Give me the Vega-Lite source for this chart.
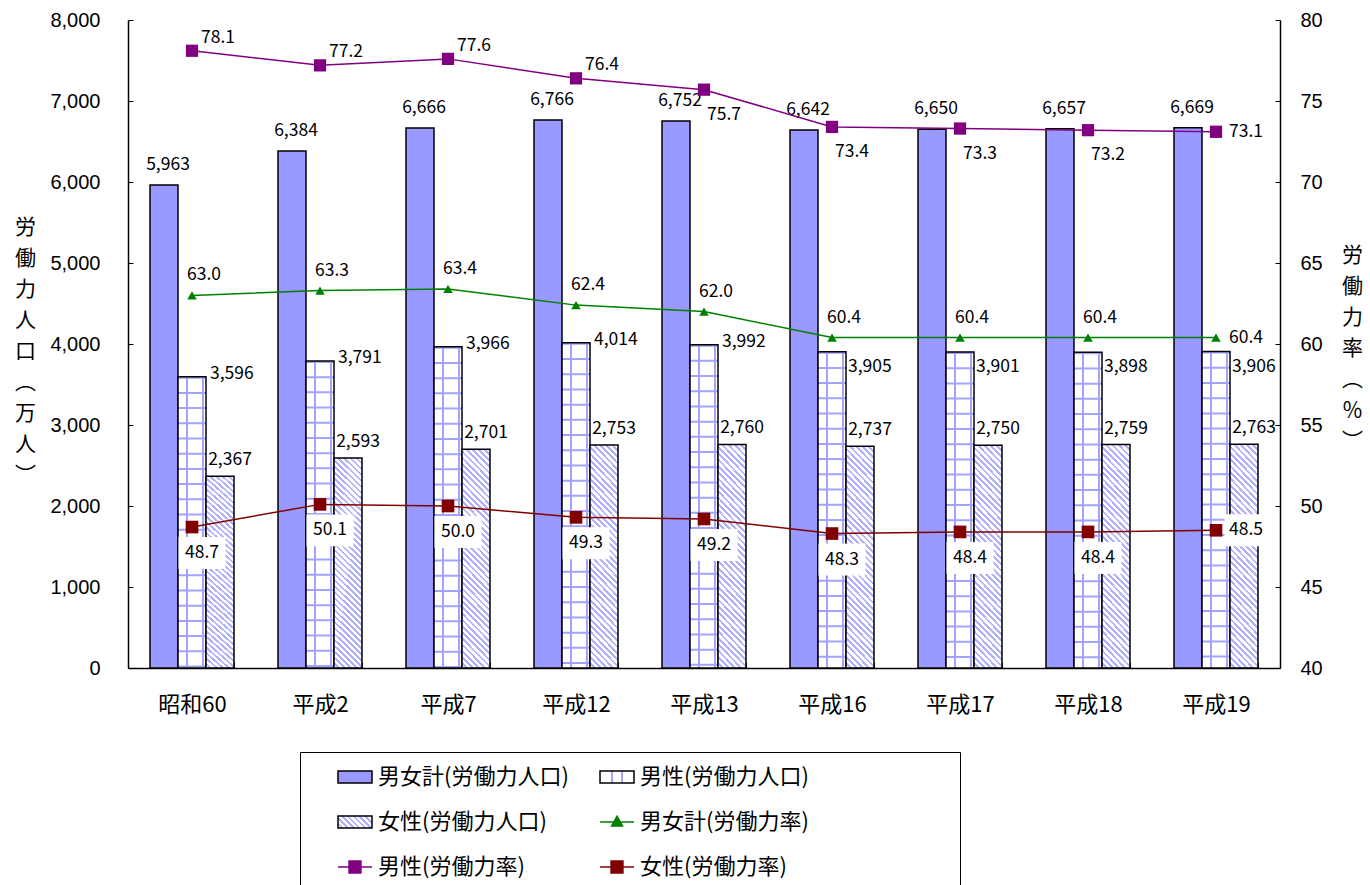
{
  "$schema": "https://vega.github.io/schema/vega-lite/v6.json",
  "width": 1152,
  "height": 648,
  "autosize": {"type": "none"},
  "padding": {"left": 128, "top": 20, "right": 90, "bottom": 217},
  "background": "white",
  "view": {"stroke": null},
  "config": {
    "axis": {"grid": false, "domainColor": "black", "tickColor": "black", "labelColor": "black", "titleColor": "black"}
  },
  "datasets": {
    "rows": [
      {"year": "昭和60", "series": "男女計(労働力人口)", "value": 5963},
      {"year": "平成2", "series": "男女計(労働力人口)", "value": 6384},
      {"year": "平成7", "series": "男女計(労働力人口)", "value": 6666},
      {"year": "平成12", "series": "男女計(労働力人口)", "value": 6766},
      {"year": "平成13", "series": "男女計(労働力人口)", "value": 6752},
      {"year": "平成16", "series": "男女計(労働力人口)", "value": 6642},
      {"year": "平成17", "series": "男女計(労働力人口)", "value": 6650},
      {"year": "平成18", "series": "男女計(労働力人口)", "value": 6657},
      {"year": "平成19", "series": "男女計(労働力人口)", "value": 6669},
      {"year": "昭和60", "series": "男性(労働力人口)", "value": 3596},
      {"year": "平成2", "series": "男性(労働力人口)", "value": 3791},
      {"year": "平成7", "series": "男性(労働力人口)", "value": 3966},
      {"year": "平成12", "series": "男性(労働力人口)", "value": 4014},
      {"year": "平成13", "series": "男性(労働力人口)", "value": 3992},
      {"year": "平成16", "series": "男性(労働力人口)", "value": 3905},
      {"year": "平成17", "series": "男性(労働力人口)", "value": 3901},
      {"year": "平成18", "series": "男性(労働力人口)", "value": 3898},
      {"year": "平成19", "series": "男性(労働力人口)", "value": 3906},
      {"year": "昭和60", "series": "女性(労働力人口)", "value": 2367},
      {"year": "平成2", "series": "女性(労働力人口)", "value": 2593},
      {"year": "平成7", "series": "女性(労働力人口)", "value": 2701},
      {"year": "平成12", "series": "女性(労働力人口)", "value": 2753},
      {"year": "平成13", "series": "女性(労働力人口)", "value": 2760},
      {"year": "平成16", "series": "女性(労働力人口)", "value": 2737},
      {"year": "平成17", "series": "女性(労働力人口)", "value": 2750},
      {"year": "平成18", "series": "女性(労働力人口)", "value": 2759},
      {"year": "平成19", "series": "女性(労働力人口)", "value": 2763},
      {"year": "昭和60", "series": "男女計(労働力率)", "value": 63.0},
      {"year": "平成2", "series": "男女計(労働力率)", "value": 63.3},
      {"year": "平成7", "series": "男女計(労働力率)", "value": 63.4},
      {"year": "平成12", "series": "男女計(労働力率)", "value": 62.4},
      {"year": "平成13", "series": "男女計(労働力率)", "value": 62.0},
      {"year": "平成16", "series": "男女計(労働力率)", "value": 60.4},
      {"year": "平成17", "series": "男女計(労働力率)", "value": 60.4},
      {"year": "平成18", "series": "男女計(労働力率)", "value": 60.4},
      {"year": "平成19", "series": "男女計(労働力率)", "value": 60.4},
      {"year": "昭和60", "series": "男性(労働力率)", "value": 78.1},
      {"year": "平成2", "series": "男性(労働力率)", "value": 77.2},
      {"year": "平成7", "series": "男性(労働力率)", "value": 77.6},
      {"year": "平成12", "series": "男性(労働力率)", "value": 76.4},
      {"year": "平成13", "series": "男性(労働力率)", "value": 75.7},
      {"year": "平成16", "series": "男性(労働力率)", "value": 73.4},
      {"year": "平成17", "series": "男性(労働力率)", "value": 73.3},
      {"year": "平成18", "series": "男性(労働力率)", "value": 73.2},
      {"year": "平成19", "series": "男性(労働力率)", "value": 73.1},
      {"year": "昭和60", "series": "女性(労働力率)", "value": 48.7},
      {"year": "平成2", "series": "女性(労働力率)", "value": 50.1},
      {"year": "平成7", "series": "女性(労働力率)", "value": 50.0},
      {"year": "平成12", "series": "女性(労働力率)", "value": 49.3},
      {"year": "平成13", "series": "女性(労働力率)", "value": 49.2},
      {"year": "平成16", "series": "女性(労働力率)", "value": 48.3},
      {"year": "平成17", "series": "女性(労働力率)", "value": 48.4},
      {"year": "平成18", "series": "女性(労働力率)", "value": 48.4},
      {"year": "平成19", "series": "女性(労働力率)", "value": 48.5}
    ]
  },
  "data": {"name": "rows"},
  "encoding": {
    "x": {
      "field": "year",
      "type": "nominal",
      "sort": ["昭和60", "平成2", "平成7", "平成12", "平成13", "平成16", "平成17", "平成18", "平成19"],
      "scale": {"paddingInner": 0.34375, "paddingOuter": 0.171875},
      "axis": {
        "title": null,
        "labelAngle": 0,
        "labelFont": "Noto Sans CJK JP",
        "labelFontSize": 22,
        "labelPadding": 32,
        "tickBand": "extent",
        "tickSize": -6,
        "domainWidth": 1.5
      }
    }
  },
  "layer": [
    {
      "encoding": {
        "y": {
          "field": "value",
          "type": "quantitative",
          "scale": {"domain": [0, 8000], "nice": false},
          "axis": {
            "orient": "left",
            "values": [0, 1000, 2000, 3000, 4000, 5000, 6000, 7000, 8000],
            "format": ",.0f",
            "labelFont": "Liberation Sans",
            "labelFontSize": 20,
            "tickSize": -5,
            "labelPadding": 33,
            "domainWidth": 1.5,
            "title": ["労", "働", "力", "人", "口", "︵", "万", "人", "︶"],
            "titleAngle": 0,
            "titleAlign": "center",
            "titleBaseline": "top",
            "titleX": -103,
            "titleY": 196,
            "titleLineHeight": 31,
            "titleFont": "Noto Sans CJK JP",
            "titleFontSize": 21,
            "titleFontWeight": "normal"
          }
        },
        "xOffset": {
          "field": "series",
          "type": "nominal",
          "sort": ["男女計(労働力人口)", "男性(労働力人口)", "女性(労働力人口)"],
          "scale": {"domain": ["男女計(労働力人口)", "男性(労働力人口)", "女性(労働力人口)"], "paddingInner": 0, "paddingOuter": 0}
        }
      },
      "layer": [
        {
          "transform": [{"filter": "datum.series === '男女計(労働力人口)'"}],
          "mark": {"type": "bar", "fill": "#9999ff", "stroke": "black", "strokeWidth": 1.5}
        },
        {
          "transform": [{"filter": "datum.series === '男性(労働力人口)'"}],
          "mark": {
            "type": "bar",
            "fill": {
              "gradient": "linear", "x1": 0, "y1": 0, "x2": 1, "y2": 0,
              "stops": [
                {"offset": 0, "color": "#fff"}, {"offset": 0.3, "color": "#fff"},
                {"offset": 0.3, "color": "#a3a3ff"}, {"offset": 0.37, "color": "#a3a3ff"},
                {"offset": 0.37, "color": "#fff"}, {"offset": 0.87, "color": "#fff"},
                {"offset": 0.87, "color": "#a3a3ff"}, {"offset": 0.94, "color": "#a3a3ff"},
                {"offset": 0.94, "color": "#fff"}, {"offset": 1, "color": "#fff"}
              ]
            },
            "strokeWidth": 0
          }
        },
        {
          "transform": [{"filter": "datum.series === '男性(労働力人口)'"}],
          "mark": {"type": "rule", "color": "#a3a3ff", "strokeWidth": 28, "strokeDash": [2, 13.2], "strokeCap": "butt", "opacity": 1},
          "encoding": {"y2": {"datum": 0}}
        },
        {
          "transform": [{"filter": "datum.series === '男性(労働力人口)'"}],
          "mark": {"type": "bar", "fillOpacity": 0, "stroke": "black", "strokeWidth": 1.5}
        },
        {
          "transform": [{"filter": "datum.series === '女性(労働力人口)'"}],
          "mark": {
            "type": "bar",
            "stroke": "black",
            "strokeWidth": 1.5,
            "fill": {
              "gradient": "linear", "x1": 0, "y1": 1, "x2": 0.1456, "y2": -0.12,
              "stops": [
                {"offset": 0, "color": "#fff"}, {"offset": 0.014, "color": "#fff"}, {"offset": 0.014, "color": "#b0b0ff"}, {"offset": 0.025, "color": "#b0b0ff"},
                {"offset": 0.025, "color": "#fff"}, {"offset": 0.039, "color": "#fff"}, {"offset": 0.039, "color": "#b0b0ff"}, {"offset": 0.05, "color": "#b0b0ff"},
                {"offset": 0.05, "color": "#fff"}, {"offset": 0.064, "color": "#fff"}, {"offset": 0.064, "color": "#b0b0ff"}, {"offset": 0.075, "color": "#b0b0ff"},
                {"offset": 0.075, "color": "#fff"}, {"offset": 0.089, "color": "#fff"}, {"offset": 0.089, "color": "#b0b0ff"}, {"offset": 0.1, "color": "#b0b0ff"},
                {"offset": 0.1, "color": "#fff"}, {"offset": 0.114, "color": "#fff"}, {"offset": 0.114, "color": "#b0b0ff"}, {"offset": 0.125, "color": "#b0b0ff"},
                {"offset": 0.125, "color": "#fff"}, {"offset": 0.139, "color": "#fff"}, {"offset": 0.139, "color": "#b0b0ff"}, {"offset": 0.15, "color": "#b0b0ff"},
                {"offset": 0.15, "color": "#fff"}, {"offset": 0.164, "color": "#fff"}, {"offset": 0.164, "color": "#b0b0ff"}, {"offset": 0.175, "color": "#b0b0ff"},
                {"offset": 0.175, "color": "#fff"}, {"offset": 0.189, "color": "#fff"}, {"offset": 0.189, "color": "#b0b0ff"}, {"offset": 0.2, "color": "#b0b0ff"},
                {"offset": 0.2, "color": "#fff"}, {"offset": 0.214, "color": "#fff"}, {"offset": 0.214, "color": "#b0b0ff"}, {"offset": 0.225, "color": "#b0b0ff"},
                {"offset": 0.225, "color": "#fff"}, {"offset": 0.239, "color": "#fff"}, {"offset": 0.239, "color": "#b0b0ff"}, {"offset": 0.25, "color": "#b0b0ff"},
                {"offset": 0.25, "color": "#fff"}, {"offset": 0.264, "color": "#fff"}, {"offset": 0.264, "color": "#b0b0ff"}, {"offset": 0.275, "color": "#b0b0ff"},
                {"offset": 0.275, "color": "#fff"}, {"offset": 0.289, "color": "#fff"}, {"offset": 0.289, "color": "#b0b0ff"}, {"offset": 0.3, "color": "#b0b0ff"},
                {"offset": 0.3, "color": "#fff"}, {"offset": 0.314, "color": "#fff"}, {"offset": 0.314, "color": "#b0b0ff"}, {"offset": 0.325, "color": "#b0b0ff"},
                {"offset": 0.325, "color": "#fff"}, {"offset": 0.339, "color": "#fff"}, {"offset": 0.339, "color": "#b0b0ff"}, {"offset": 0.35, "color": "#b0b0ff"},
                {"offset": 0.35, "color": "#fff"}, {"offset": 0.364, "color": "#fff"}, {"offset": 0.364, "color": "#b0b0ff"}, {"offset": 0.375, "color": "#b0b0ff"},
                {"offset": 0.375, "color": "#fff"}, {"offset": 0.389, "color": "#fff"}, {"offset": 0.389, "color": "#b0b0ff"}, {"offset": 0.4, "color": "#b0b0ff"},
                {"offset": 0.4, "color": "#fff"}, {"offset": 0.414, "color": "#fff"}, {"offset": 0.414, "color": "#b0b0ff"}, {"offset": 0.425, "color": "#b0b0ff"},
                {"offset": 0.425, "color": "#fff"}, {"offset": 0.439, "color": "#fff"}, {"offset": 0.439, "color": "#b0b0ff"}, {"offset": 0.45, "color": "#b0b0ff"},
                {"offset": 0.45, "color": "#fff"}, {"offset": 0.464, "color": "#fff"}, {"offset": 0.464, "color": "#b0b0ff"}, {"offset": 0.475, "color": "#b0b0ff"},
                {"offset": 0.475, "color": "#fff"}, {"offset": 0.489, "color": "#fff"}, {"offset": 0.489, "color": "#b0b0ff"}, {"offset": 0.5, "color": "#b0b0ff"},
                {"offset": 0.5, "color": "#fff"}, {"offset": 0.514, "color": "#fff"}, {"offset": 0.514, "color": "#b0b0ff"}, {"offset": 0.525, "color": "#b0b0ff"},
                {"offset": 0.525, "color": "#fff"}, {"offset": 0.539, "color": "#fff"}, {"offset": 0.539, "color": "#b0b0ff"}, {"offset": 0.55, "color": "#b0b0ff"},
                {"offset": 0.55, "color": "#fff"}, {"offset": 0.564, "color": "#fff"}, {"offset": 0.564, "color": "#b0b0ff"}, {"offset": 0.575, "color": "#b0b0ff"},
                {"offset": 0.575, "color": "#fff"}, {"offset": 0.589, "color": "#fff"}, {"offset": 0.589, "color": "#b0b0ff"}, {"offset": 0.6, "color": "#b0b0ff"},
                {"offset": 0.6, "color": "#fff"}, {"offset": 0.614, "color": "#fff"}, {"offset": 0.614, "color": "#b0b0ff"}, {"offset": 0.625, "color": "#b0b0ff"},
                {"offset": 0.625, "color": "#fff"}, {"offset": 0.639, "color": "#fff"}, {"offset": 0.639, "color": "#b0b0ff"}, {"offset": 0.65, "color": "#b0b0ff"},
                {"offset": 0.65, "color": "#fff"}, {"offset": 0.664, "color": "#fff"}, {"offset": 0.664, "color": "#b0b0ff"}, {"offset": 0.675, "color": "#b0b0ff"},
                {"offset": 0.675, "color": "#fff"}, {"offset": 0.689, "color": "#fff"}, {"offset": 0.689, "color": "#b0b0ff"}, {"offset": 0.7, "color": "#b0b0ff"},
                {"offset": 0.7, "color": "#fff"}, {"offset": 0.714, "color": "#fff"}, {"offset": 0.714, "color": "#b0b0ff"}, {"offset": 0.725, "color": "#b0b0ff"},
                {"offset": 0.725, "color": "#fff"}, {"offset": 0.739, "color": "#fff"}, {"offset": 0.739, "color": "#b0b0ff"}, {"offset": 0.75, "color": "#b0b0ff"},
                {"offset": 0.75, "color": "#fff"}, {"offset": 0.764, "color": "#fff"}, {"offset": 0.764, "color": "#b0b0ff"}, {"offset": 0.775, "color": "#b0b0ff"},
                {"offset": 0.775, "color": "#fff"}, {"offset": 0.789, "color": "#fff"}, {"offset": 0.789, "color": "#b0b0ff"}, {"offset": 0.8, "color": "#b0b0ff"},
                {"offset": 0.8, "color": "#fff"}, {"offset": 0.814, "color": "#fff"}, {"offset": 0.814, "color": "#b0b0ff"}, {"offset": 0.825, "color": "#b0b0ff"},
                {"offset": 0.825, "color": "#fff"}, {"offset": 0.839, "color": "#fff"}, {"offset": 0.839, "color": "#b0b0ff"}, {"offset": 0.85, "color": "#b0b0ff"},
                {"offset": 0.85, "color": "#fff"}, {"offset": 0.864, "color": "#fff"}, {"offset": 0.864, "color": "#b0b0ff"}, {"offset": 0.875, "color": "#b0b0ff"},
                {"offset": 0.875, "color": "#fff"}, {"offset": 0.889, "color": "#fff"}, {"offset": 0.889, "color": "#b0b0ff"}, {"offset": 0.9, "color": "#b0b0ff"},
                {"offset": 0.9, "color": "#fff"}, {"offset": 0.914, "color": "#fff"}, {"offset": 0.914, "color": "#b0b0ff"}, {"offset": 0.925, "color": "#b0b0ff"},
                {"offset": 0.925, "color": "#fff"}, {"offset": 0.939, "color": "#fff"}, {"offset": 0.939, "color": "#b0b0ff"}, {"offset": 0.95, "color": "#b0b0ff"},
                {"offset": 0.95, "color": "#fff"}, {"offset": 0.964, "color": "#fff"}, {"offset": 0.964, "color": "#b0b0ff"}, {"offset": 0.975, "color": "#b0b0ff"},
                {"offset": 0.975, "color": "#fff"}, {"offset": 0.989, "color": "#fff"}, {"offset": 0.989, "color": "#b0b0ff"}, {"offset": 1, "color": "#b0b0ff"}
              ]
            }
          }
        },
        {
          "transform": [{"filter": "datum.series === '男女計(労働力人口)'"}],
          "mark": {"type": "text", "font": "Noto Sans CJK JP", "fontSize": 17.5, "color": "black", "align": "center", "baseline": "bottom", "dx": 4, "dy": -11},
          "encoding": {"text": {"field": "value", "type": "quantitative", "format": ","}}
        },
        {
          "transform": [{"filter": "datum.series === '男性(労働力人口)' && indexof(['昭和60', '平成2', '平成7', '平成12', '平成13'], datum.year) >= 0"}],
          "mark": {"type": "text", "font": "Noto Sans CJK JP", "fontSize": 17.5, "color": "black", "align": "left", "baseline": "middle", "dx": 18, "dy": -3},
          "encoding": {"text": {"field": "value", "type": "quantitative", "format": ","}}
        },
        {
          "transform": [{"filter": "datum.series === '男性(労働力人口)' && indexof(['平成16', '平成17', '平成18', '平成19'], datum.year) >= 0"}],
          "mark": {"type": "text", "font": "Noto Sans CJK JP", "fontSize": 17.5, "color": "black", "align": "left", "baseline": "middle", "dx": 16, "dy": 15},
          "encoding": {"text": {"field": "value", "type": "quantitative", "format": ","}}
        },
        {
          "transform": [{"filter": "datum.series === '女性(労働力人口)'"}],
          "mark": {"type": "text", "font": "Noto Sans CJK JP", "fontSize": 17.5, "color": "black", "align": "center", "baseline": "bottom", "dx": 10, "dy": -7},
          "encoding": {"text": {"field": "value", "type": "quantitative", "format": ","}}
        }
      ]
    },
    {
      "encoding": {
        "y": {
          "field": "value",
          "type": "quantitative",
          "scale": {"domain": [40, 80], "nice": false, "zero": false},
          "axis": {
            "orient": "right",
            "values": [40, 45, 50, 55, 60, 65, 70, 75, 80],
            "labelFont": "Liberation Sans",
            "labelFontSize": 20,
            "tickSize": -5,
            "labelPadding": 25,
            "domainWidth": 1.5,
            "title": ["労", "働", "力", "率", "︵", "％", "︶"],
            "titleAngle": 0,
            "titleAlign": "center",
            "titleBaseline": "top",
            "titleX": 72,
            "titleY": 224,
            "titleLineHeight": 31,
            "titleFont": "Noto Sans CJK JP",
            "titleFontSize": 21,
            "titleFontWeight": "normal"
          }
        }
      },
      "layer": [
        {
          "transform": [{"filter": "datum.series === '男女計(労働力率)'"}],
          "mark": {"type": "line", "color": "#008000", "strokeWidth": 1.5},
          "encoding": {}
        },
        {
          "transform": [{"filter": "datum.series === '男女計(労働力率)'"}],
          "mark": {"type": "point", "shape": "triangle-up", "filled": true, "color": "#008000", "size": 90, "opacity": 1}
        },
        {
          "transform": [{"filter": "datum.series === '男性(労働力率)'"}],
          "mark": {"type": "line", "color": "#800080", "strokeWidth": 1.5},
          "encoding": {}
        },
        {
          "transform": [{"filter": "datum.series === '男性(労働力率)'"}],
          "mark": {"type": "point", "shape": "square", "filled": true, "color": "#800080", "size": 150, "opacity": 1}
        },
        {
          "transform": [{"filter": "datum.series === '女性(労働力率)'"}],
          "mark": {"type": "line", "color": "#800000", "strokeWidth": 1.5},
          "encoding": {}
        },
        {
          "transform": [{"filter": "datum.series === '女性(労働力率)'"}],
          "mark": {"type": "point", "shape": "square", "filled": true, "color": "#800000", "size": 160, "opacity": 1}
        },
        {
          "transform": [{"filter": "datum.series === '男女計(労働力率)' && datum.year !== '平成19'"}],
          "mark": {"type": "text", "font": "Noto Sans CJK JP", "fontSize": 17.5, "color": "black", "align": "center", "baseline": "middle", "dx": 12, "dy": -20},
          "encoding": {"text": {"field": "value", "type": "quantitative", "format": ".1f"}}
        },
        {
          "transform": [{"filter": "datum.series === '男性(労働力率)' && indexof(['昭和60', '平成2', '平成7', '平成12'], datum.year) >= 0"}],
          "mark": {"type": "text", "font": "Noto Sans CJK JP", "fontSize": 17.5, "color": "black", "align": "center", "baseline": "middle", "dx": 26, "dy": -13},
          "encoding": {"text": {"field": "value", "type": "quantitative", "format": ".1f"}}
        },
        {
          "transform": [{"filter": "datum.series === '男性(労働力率)' && indexof(['平成13', '平成16', '平成17', '平成18'], datum.year) >= 0"}],
          "mark": {"type": "text", "font": "Noto Sans CJK JP", "fontSize": 17.5, "color": "black", "align": "center", "baseline": "middle", "dx": 20, "dy": 25},
          "encoding": {"text": {"field": "value", "type": "quantitative", "format": ".1f"}}
        },
        {
          "transform": [{"filter": "datum.series === '女性(労働力率)' && datum.year !== '平成19'"}],
          "mark": {"type": "point", "shape": "M-1,-0.68H1V0.68H-1Z", "filled": true, "fill": "white", "strokeWidth": 0, "size": 2209, "opacity": 1, "xOffset": 10, "yOffset": 26}
        },
        {
          "transform": [{"filter": "datum.series === '女性(労働力率)' && datum.year === '平成19'"}],
          "mark": {"type": "point", "shape": "M-1,-0.68H1V0.68H-1Z", "filled": true, "fill": "white", "strokeWidth": 0, "size": 2209, "opacity": 1, "xOffset": 32, "yOffset": 0}
        },
        {
          "transform": [{"filter": "datum.series === '女性(労働力率)' && datum.year !== '平成19'"}],
          "mark": {"type": "text", "font": "Noto Sans CJK JP", "fontSize": 17.5, "color": "black", "align": "center", "baseline": "middle", "dx": 10, "dy": 26},
          "encoding": {"text": {"field": "value", "type": "quantitative", "format": ".1f"}}
        },
        {
          "transform": [{"filter": "indexof(['男女計(労働力率)', '男性(労働力率)', '女性(労働力率)'], datum.series) >= 0 && datum.year === '平成19'"}],
          "mark": {"type": "text", "font": "Noto Sans CJK JP", "fontSize": 17.5, "color": "black", "align": "left", "baseline": "middle", "dx": 13, "dy": 0},
          "encoding": {"text": {"field": "value", "type": "quantitative", "format": ".1f"}}
        }
      ]
    },
    {
      "mark": {"type": "point", "filled": true, "opacity": 0},
      "encoding": {
        "fill": {
          "field": "series",
          "type": "nominal",
          "scale": {
            "domain": ["男女計(労働力人口)", "女性(労働力人口)", "男性(労働力率)", "男性(労働力人口)", "男女計(労働力率)", "女性(労働力率)"],
            "range": [
              "#9999ff",
              {"expr": "{gradient: 'linear', x1: 0, y1: 1, x2: 1.2, y2: 0.576, stops: [{offset: 0, color: '#fff'}, {offset: 0.07, color: '#fff'}, {offset: 0.07, color: '#b0b0ff'}, {offset: 0.125, color: '#b0b0ff'}, {offset: 0.125, color: '#fff'}, {offset: 0.195, color: '#fff'}, {offset: 0.195, color: '#b0b0ff'}, {offset: 0.25, color: '#b0b0ff'}, {offset: 0.25, color: '#fff'}, {offset: 0.32, color: '#fff'}, {offset: 0.32, color: '#b0b0ff'}, {offset: 0.375, color: '#b0b0ff'}, {offset: 0.375, color: '#fff'}, {offset: 0.445, color: '#fff'}, {offset: 0.445, color: '#b0b0ff'}, {offset: 0.5, color: '#b0b0ff'}, {offset: 0.5, color: '#fff'}, {offset: 0.57, color: '#fff'}, {offset: 0.57, color: '#b0b0ff'}, {offset: 0.625, color: '#b0b0ff'}, {offset: 0.625, color: '#fff'}, {offset: 0.695, color: '#fff'}, {offset: 0.695, color: '#b0b0ff'}, {offset: 0.75, color: '#b0b0ff'}, {offset: 0.75, color: '#fff'}, {offset: 0.82, color: '#fff'}, {offset: 0.82, color: '#b0b0ff'}, {offset: 0.875, color: '#b0b0ff'}, {offset: 0.875, color: '#fff'}, {offset: 0.945, color: '#fff'}, {offset: 0.945, color: '#b0b0ff'}, {offset: 1, color: '#b0b0ff'}]}"},
              "#800080",
              {"expr": "{gradient: 'linear', x1: 0, y1: 0, x2: 1, y2: 0, stops: [{offset: 0, color: '#fff'}, {offset: 0.31, color: '#fff'}, {offset: 0.31, color: '#a3a3ff'}, {offset: 0.37, color: '#a3a3ff'}, {offset: 0.37, color: '#fff'}, {offset: 0.63, color: '#fff'}, {offset: 0.63, color: '#a3a3ff'}, {offset: 0.69, color: '#a3a3ff'}, {offset: 0.69, color: '#fff'}, {offset: 1, color: '#fff'}]}"},
              "#008000",
              "#800000"
            ]
          },
          "legend": {
            "orient": "none",
            "legendX": 172,
            "legendY": 732,
            "direction": "vertical",
            "columns": 2,
            "title": null,
            "strokeColor": "black",
            "fillColor": "white",
            "padding": 7,
            "symbolOffset": 30,
            "symbolSize": 1156,
            "symbolStrokeWidth": 1.5,
            "symbolOpacity": 1,
            "labelFont": "Noto Sans CJK JP",
            "labelFontSize": 22,
            "labelColor": "black",
            "labelLimit": 500,
            "labelOffset": 5,
            "columnPadding": -6,
            "rowPadding": 16,
            "labelExpr": "indexof(['男性(労働力人口)', '男女計(労働力率)', '女性(労働力率)'], datum.value) >= 0 ? datum.label + '\u2800\u2800\u2800\u2800\u2800\u2800\u2800\u2800\u2800' : datum.label"
          }
        },
        "stroke": {
          "field": "series",
          "type": "nominal",
          "scale": {
            "domain": ["男女計(労働力人口)", "女性(労働力人口)", "男性(労働力率)", "男性(労働力人口)", "男女計(労働力率)", "女性(労働力率)"],
            "range": ["black", "black", "#800080", "black", "#008000", "#800000"]
          },
          "legend": {"symbolFillColor": "white", "symbolOpacity": 1}
        },
        "shape": {
          "field": "series",
          "type": "nominal",
          "scale": {
            "domain": ["男女計(労働力人口)", "女性(労働力人口)", "男性(労働力率)", "男性(労働力人口)", "男女計(労働力率)", "女性(労働力率)"],
            "range": [
              "M-1,-0.35H1V0.35H-1Z",
              "M-1,-0.35H1V0.35H-1Z",
              "M-1,0H1M-0.35,-0.35H0.35V0.35H-0.35Z",
              "M-1,-0.35H1V0.35H-1Z",
              "M-1,0H1M0,-0.34L0.32,0.24H-0.32Z",
              "M-1,0H1M-0.35,-0.35H0.35V0.35H-0.35Z"
            ]
          },
          "legend": {"symbolFillColor": "white", "symbolOpacity": 1}
        }
      }
    }
  ],
  "resolve": {"scale": {"y": "independent"}}
}
